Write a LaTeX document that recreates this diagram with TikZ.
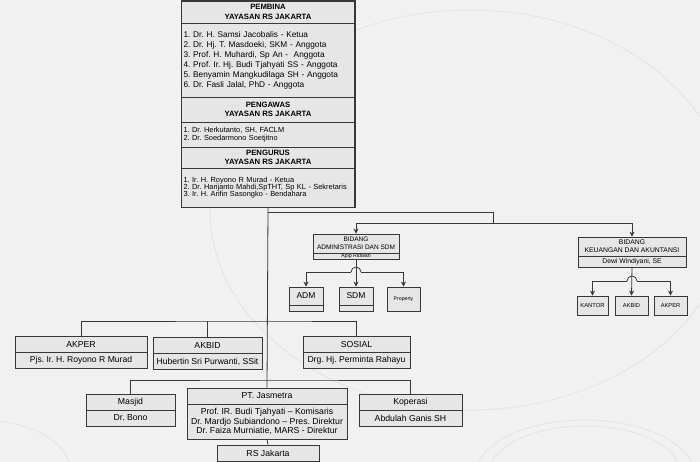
\documentclass[tikz,border=0pt]{standalone}
\usepackage{fontspec}
\setmainfont{Liberation Sans}
\usetikzlibrary{arrows.meta}
\frenchspacing
\definecolor{bggray}{HTML}{F1F1F1}
\definecolor{cellgray}{HTML}{E6E6E6}
\definecolor{linegray}{HTML}{383838}
\definecolor{arcgray}{HTML}{E5E5E5}
\newcommand{\fsz}[2]{\fontsize{#1}{#2}\selectfont}
\begin{document}
\begin{tikzpicture}[
        >={Stealth[length=5pt,width=5pt]},
        x=1pt,y=-1pt,
        cell/.style={draw=linegray,fill=cellgray,line width=.8pt,inner sep=0pt,align=center},
        link/.style={draw=linegray,line width=.8pt},
        ]
        \fill[bggray] (0,0) rectangle (700,462);
        \useasboundingbox (0,0) rectangle (700,462);
        \draw[arcgray,line width=1pt] (585,472) ellipse[x radius=95pt,y radius=46pt];
        \draw[arcgray,line width=1pt] (585,476) ellipse[x radius=110pt,y radius=56pt];
        \draw[arcgray,line width=1pt] (470,210) ellipse[x radius=260pt,y radius=200pt];
        \draw[arcgray,line width=1pt] (-20,470) ellipse[x radius=90pt,y radius=50pt];
        % yayasan
        \node[cell,minimum width=173,minimum height=22,font=\bfseries\fsz{7.7}{9.3}] (pembina) at (268,12) {PEMBINA\\YAYASAN RS JAKARTA};
        \node[cell,text width=169,inner xsep=2,minimum height=74,align=left,font=\fsz{8.3}{10}] (pembinalist) at (268,60) {1. Dr. H. Samsi Jacobalis - Ketua\\2. Dr. Hj. T. Masdoeki, SKM - Anggota\\3. Prof. H. Muhardi, Sp An -\ \ Anggota\\4. Prof. Ir. Hj. Budi Tjahyati SS - Anggota\\5. Benyamin Mangkudilaga SH - Anggota\\6. Dr. Fasli Jalal, PhD - Anggota};
        \node[cell,minimum width=173,minimum height=25,font=\bfseries\fsz{7.7}{9.3}] (pengawas) at (268,109.5) {PENGAWAS\\YAYASAN RS JAKARTA};
        \node[cell,text width=169,inner xsep=2,minimum height=25,align=left,font=\fsz{7.4}{7.4}] (pengawaslist) at (268,134.5) {1. Dr. Herkutanto, SH, FACLM\\2. Dr. Soedarmono Soetjitno};
        \node[cell,minimum width=173,minimum height=21,font=\bfseries\fsz{7.7}{9.3}] (pengurus) at (268,157.5) {PENGURUS\\YAYASAN RS JAKARTA};
        \node[cell,text width=169,inner xsep=2,minimum height=39,align=left,font=\fsz{7.4}{7.4}] (penguruslist) at (268,187.5) {1. Ir. H. Royono R Murad - Ketua\\2. Dr. Harijanto Mahdi,SpTHT, Sp KL - Sekretaris\\3. Ir. H. Arifin Sasongko - Bendahara};
        \draw[link,line width=1.2pt] (pembina.north west) rectangle (penguruslist.south east);
        % bidang
        \node[cell,minimum width=86,minimum height=19,font=\fsz{6.5}{8}] (bidadm) at (356,243.5) {BIDANG\\ADMINISTRASI DAN SDM};
        \node[cell,minimum width=86,minimum height=6,font=\fsz{5.3}{6}] (bidadmname) at (356,256) {Apip Ridwan};
        \node[cell,minimum width=108,minimum height=19,font=\fsz{6.8}{8.3}] (bidkeu) at (632,246.5) {BIDANG\\KEUANGAN DAN AKUNTANSI};
        \node[cell,minimum width=108,minimum height=11,font=\fsz{6.8}{8}] (bidkeuname) at (632,261.5) {Dewi Windiyani, SE};
        \node[cell,minimum width=34,minimum height=18,font=\fsz{8.5}{9}] (adm) at (306,296) {ADM};
        \node[cell,minimum width=34,minimum height=6] (admsub) at (306,308) {};
        \node[cell,minimum width=34,minimum height=18,font=\fsz{8.5}{9}] (sdm) at (356,296) {SDM};
        \node[cell,minimum width=34,minimum height=6] (sdmsub) at (356,308) {};
        \node[cell,minimum width=33,minimum height=24,font=\fsz{5.2}{6}] (property) at (403.5,299) {Property};
        \node[cell,minimum width=31,minimum height=19,font=\fsz{5.8}{6}] (kantor) at (592.5,305.5) {KANTOR};
        \node[cell,minimum width=33,minimum height=19,font=\fsz{5.7}{6}] (keuakbid) at (631.5,305.5) {AKBID};
        \node[cell,minimum width=33,minimum height=19,font=\fsz{5.7}{6}] (keuakper) at (670.5,305.5) {AKPER};
        % unit
        \node[cell,minimum width=132,minimum height=16,font=\fsz{8.7}{9}] (akper) at (81,344.5) {AKPER};
        \node[cell,minimum width=132,minimum height=16,font=\fsz{8.6}{9}] (akperhead) at (81,360.5) {Pjs. Ir. H. Royono R Murad};
        \node[cell,minimum width=109,minimum height=16,font=\fsz{8.7}{9}] (akbid) at (207.5,345.5) {AKBID};
        \node[cell,minimum width=109,minimum height=16,font=\fsz{8.6}{9}] (akbidhead) at (207.5,361.5) {Hubertin Sri Purwanti, SSit};
        \node[cell,minimum width=107,minimum height=16,font=\fsz{8.7}{9}] (sosial) at (356.5,344.5) {SOSIAL};
        \node[cell,minimum width=107,minimum height=16,font=\fsz{8.6}{9}] (sosialhead) at (356.5,360.5) {Drg. Hj. Perminta Rahayu};
        \node[cell,minimum width=89,minimum height=16,font=\fsz{8.7}{9}] (masjid) at (130.5,402) {Masjid};
        \node[cell,minimum width=89,minimum height=16,font=\fsz{8.7}{9}] (masjidhead) at (130.5,418) {Dr. Bono};
        \node[cell,minimum width=160,minimum height=16,font=\fsz{8.7}{9}] (jasmetra) at (267,396) {PT. Jasmetra};
        \node[cell,minimum width=160,minimum height=35,font=\fsz{8.7}{9.4}] (jasmetrahead) at (267,421.5) {Prof. IR. Budi Tjahyati -- Komisaris\\Dr. Mardjo Subiandono -- Pres. Direktur\\Dr. Faiza Murniatie, MARS - Direktur};
        \node[cell,minimum width=102,minimum height=16,font=\fsz{8.7}{9}] (rsjakarta) at (268,453) {RS Jakarta};
        \node[cell,minimum width=103,minimum height=16,font=\fsz{8.7}{9}] (koperasi) at (410.5,402) {Koperasi};
        \node[cell,minimum width=103,minimum height=16,font=\fsz{8.7}{9}] (koperasihead) at (410.5,418) {Abdulah Ganis SH};
        % lines
        \coordinate (b0) at (268,212);
        \coordinate (b1) at (493,212);
        \coordinate (b2) at (493,223);
        \coordinate (l1) at (268,321);
        \coordinate (l2) at (268,380);
        \coordinate (ahop) at (356,272);
        \coordinate (khop) at (632,281);
        \draw[link] (penguruslist.south) -- (jasmetra.north);
        \draw[link] (jasmetrahead.south) -- (rsjakarta.north);
        \draw[link] (b0) -- (b1) -- (b2);
        \draw[link,->] (b2) -| (bidadm.north);
        \draw[link,->] (b2) -| (bidkeu.north);
        \draw[link,->] (bidadmname.south) -- (sdm.north);
        \draw[link] ([xshift=-5pt]ahop) arc[start angle=180,end angle=0,radius=5pt];
        \draw[link,->] ([xshift=-5pt]ahop) -| (adm.north);
        \draw[link,->] ([xshift=5pt]ahop) -| (property.north);
        \draw[link,->] (bidkeuname.south) -- (keuakbid.north);
        \draw[link] ([xshift=-5pt]khop) arc[start angle=180,end angle=0,radius=5pt];
        \draw[link,->] ([xshift=-5pt]khop) -| (kantor.north);
        \draw[link,->] ([xshift=5pt]khop) -| (keuakper.north);
        \draw[link] (akper.north) |- (l1) -| (sosial.north);
        \draw[link] (akbid.north) -- (akbid.north |- l1);
        \draw[link] (masjid.north) |- (l2) -| (koperasi.north);
\end{tikzpicture}
\end{document}
